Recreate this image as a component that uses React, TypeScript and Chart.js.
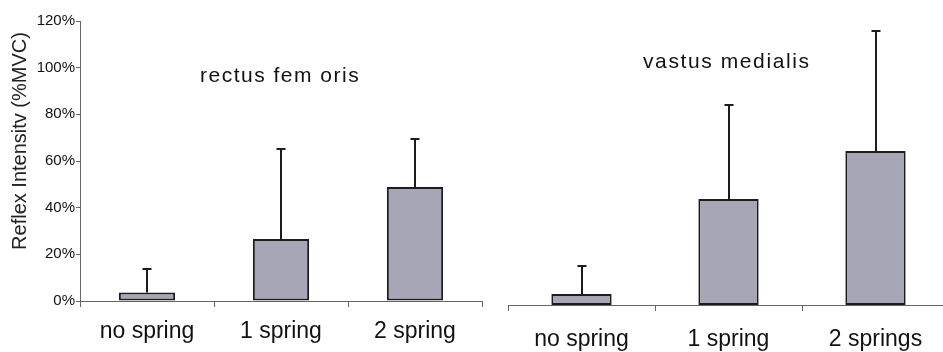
import React, { useEffect, useRef } from "react";
import { Chart, registerables } from "chart.js";

Chart.register(...registerables);

// Reflex intensity (%MVC), mean and upper standard deviation per condition
const rectusCategories = ["no spring", "1 spring", "2 spring"];
const rectusMeans = [3.6, 26.6, 48.9];
const rectusSD = [10.1, 38.5, 20.5];

const vastusCategories = ["no spring", "1 spring", "2 springs"];
const vastusMeans = [4.7, 45.4, 66.0];
const vastusSD = [12.0, 40.3, 51.4];

const yTickValues = [0, 20, 40, 60, 80, 100, 120];

const FONT = '"Liberation Sans", Arial, Helvetica, sans-serif';
const BAR_FILL = "#a7a6b6";
const BAR_EDGE = "#1c1c1c";
const AXIS = "#666666";
const TEXT = "#111111";

function errorBars(sds: number[]) {
  return {
    id: "errorBars",
    afterDatasetsDraw(chart: any) {
      const { ctx } = chart;
      const meta = chart.getDatasetMeta(0);
      const y = chart.scales.y;
      const values = chart.data.datasets[0].data as number[];
      ctx.save();
      ctx.strokeStyle = BAR_EDGE;
      ctx.lineWidth = 2;
      meta.data.forEach((bar: any, i: number) => {
        const x = Math.round(bar.x);
        const yBase = y.getPixelForValue(values[i]);
        const yTop = y.getPixelForValue(values[i] + sds[i]);
        ctx.beginPath();
        ctx.moveTo(x, yBase);
        ctx.lineTo(x, yTop);
        ctx.moveTo(x - 4.5, yTop);
        ctx.lineTo(x + 4.5, yTop);
        ctx.stroke();
      });
      ctx.restore();
    },
  };
}

function panelLabel(text: string, dx: number, baseline: number, size: number, spacing: number) {
  return {
    id: "panelLabel",
    afterDraw(chart: any) {
      const { ctx, chartArea } = chart;
      ctx.save();
      ctx.font = `${size}px ${FONT}`;
      (ctx as any).letterSpacing = `${spacing}px`;
      ctx.fillStyle = TEXT;
      ctx.textAlign = "left";
      ctx.textBaseline = "alphabetic";
      ctx.fillText(text, chartArea.left + dx, baseline);
      ctx.restore();
    },
  };
}

const yAxisTitle = {
  id: "yAxisTitle",
  afterDraw(chart: any) {
    const { ctx } = chart;
    ctx.save();
    ctx.translate(20, 141);
    ctx.rotate(-Math.PI / 2);
    ctx.font = `20px ${FONT}`;
    ctx.fillStyle = "#222";
    ctx.textAlign = "center";
    ctx.textBaseline = "middle";
    ctx.fillText("Reflex Intensitv (%MVC)", 0, 0);
    ctx.restore();
  },
};

function barDataset(values: number[], pct: number) {
  return {
    data: values,
    backgroundColor: BAR_FILL,
    borderColor: BAR_EDGE,
    borderWidth: 2,
    borderSkipped: false,
    barPercentage: pct,
    categoryPercentage: 1,
  };
}

function xScale(height: number, padding: number) {
  return {
    grid: {
      display: true,
      drawOnChartArea: false,
      drawTicks: true,
      tickLength: 6,
      color: AXIS,
      offset: true,
    },
    border: { display: true, color: AXIS, width: 1 },
    ticks: {
      color: TEXT,
      font: { family: FONT, size: 23 },
      padding,
      maxRotation: 0,
      autoSkip: false,
    },
    afterFit: (s: any) => {
      s.height = height;
    },
  };
}

export default function App() {
  const leftRef = useRef<HTMLCanvasElement>(null);
  const rightRef = useRef<HTMLCanvasElement>(null);

  useEffect(() => {
    const left = new Chart(leftRef.current!, {
      type: "bar",
      data: {
        labels: rectusCategories,
        datasets: [barDataset(rectusMeans, 0.42) as any],
      },
      options: {
        animation: false,
        responsive: false,
        maintainAspectRatio: false,
        layout: { padding: { top: 21, right: 18, left: 0, bottom: 0 } },
        plugins: { legend: { display: false }, tooltip: { enabled: false } },
        scales: {
          x: xScale(51, 11) as any,
          y: {
            min: 0,
            max: 120,
            afterBuildTicks: (s: any) => {
              s.ticks = yTickValues.map((v) => ({ value: v }));
            },
            ticks: {
              color: TEXT,
              font: { family: FONT, size: 15 },
              padding: 1,
              callback: (v: any) => `${v}%`,
            },
            grid: { drawOnChartArea: false, drawTicks: true, tickLength: 4, color: AXIS },
            border: { display: true, color: AXIS, width: 1 },
            afterFit: (s: any) => {
              s.width = 80;
            },
          },
        },
      },
      plugins: [errorBars(rectusSD), panelLabel("rectus fem oris", 120, 82, 21, 1.5), yAxisTitle],
    });

    const right = new Chart(rightRef.current!, {
      type: "bar",
      data: {
        labels: vastusCategories,
        datasets: [barDataset(vastusMeans, 0.41) as any],
      },
      options: {
        animation: false,
        responsive: false,
        maintainAspectRatio: false,
        layout: { padding: { top: 25, right: 21, left: 8, bottom: 0 } },
        plugins: { legend: { display: false }, tooltip: { enabled: false } },
        scales: {
          x: xScale(47, 15) as any,
          y: { display: false, min: 0, max: 120 },
        },
      },
      plugins: [errorBars(vastusSD), panelLabel("vastus medialis", 135, 68, 21, 1.6)],
    });

    return () => {
      left.destroy();
      right.destroy();
    };
  }, []);

  return (
    <div
      style={{
        position: "fixed",
        left: 0,
        top: 0,
        width: 943,
        height: 352,
        overflow: "hidden",
        background: "#fff",
      }}
    >
      <canvas ref={leftRef} width={500} height={352} style={{ position: "absolute", left: 0, top: 0 }} />
      <canvas ref={rightRef} width={470} height={352} style={{ position: "absolute", left: 500, top: 0 }} />
    </div>
  );
}
